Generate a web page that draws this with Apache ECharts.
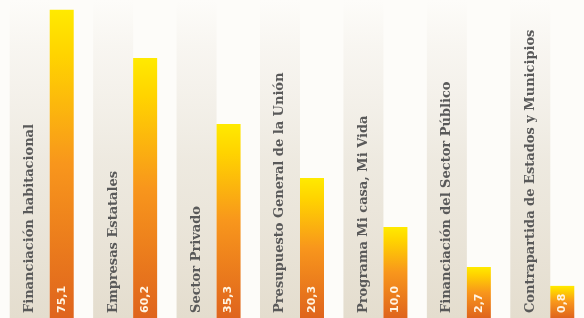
<!DOCTYPE html>
<html>
<head>
<meta charset="utf-8">
<script src="https://cdn.jsdelivr.net/npm/echarts@6/dist/echarts.min.js"></script>
<style>
  html, body { margin: 0; padding: 0; background: #fdfcf9; }
  #main { width: 584px; height: 318px; }
</style>
</head>
<body>
<div id="main"></div>
<script>
  // categorias y valores (miles de millones), tal como aparecen en la imagen
  var categories = [
    'Financiación habitacional',
    'Empresas Estatales',
    'Sector Privado',
    'Presupuesto General de la Unión',
    'Programa Mi casa, Mi Vida',
    'Financiación del Sector Público',
    'Contrapartida de Estados y Municipios'
  ];
  var values = [75.1, 60.2, 35.3, 20.3, 10.0, 2.7, 0.8];
  // la grafica original no esta a escala: largo dibujado de cada barra (0-100)
  var barLength = [96.9, 81.8, 61.0, 44.0, 28.6, 16.0, 10.1];
  var yMax = 100;

  var chart = echarts.init(document.getElementById('main'));

  var panelData = categories.map(function () { return yMax; });

  chart.setOption({
    backgroundColor: '#fdfcf9',
    animation: false,
    grid: { left: -2, right: -17, top: 0, bottom: 0 },
    xAxis: { type: 'category', data: categories, show: false },
    yAxis: { type: 'value', min: 0, max: yMax, show: false },
    series: [
      {
        // paneles grises con el nombre de cada fuente
        type: 'bar',
        barWidth: 40,
        barGap: '0%',
        data: panelData,
        itemStyle: {
          color: new echarts.graphic.LinearGradient(0, 0, 0, 1, [
            { offset: 0, color: 'rgba(236,231,222,0)' },
            { offset: 0.15, color: 'rgba(236,231,222,0.3)' },
            { offset: 0.5, color: 'rgba(234,229,218,0.8)' },
            { offset: 1, color: 'rgba(228,221,206,1)' }
          ])
        },
        label: {
          show: true,
          position: 'insideBottom',
          distance: 5,
          rotate: 90,
          align: 'left',
          verticalAlign: 'middle',
          formatter: function (p) { return categories[p.dataIndex]; },
          fontFamily: 'DejaVu Serif',
          fontWeight: 'bold',
          fontSize: 13,
          color: '#595959'
        }
      },
      {
        type: 'bar',
        barWidth: 24,
        data: barLength,
        itemStyle: {
          color: new echarts.graphic.LinearGradient(0, 0, 0, 1, [
            { offset: 0, color: '#ffea00' },
            { offset: 0.15, color: '#ffd300' },
            { offset: 0.5, color: '#f8961c' },
            { offset: 1, color: '#df641d' }
          ])
        },
        label: {
          show: true,
          position: 'insideBottom',
          distance: 5,
          rotate: 90,
          align: 'left',
          verticalAlign: 'middle',
          formatter: function (p) {
            return values[p.dataIndex].toFixed(1).replace('.', ',');
          },
          fontFamily: 'DejaVu Sans',
          fontWeight: 'bold',
          fontSize: 11,
          color: '#fff4e2'
        }
      }
    ]
  });
</script>
</body>
</html>
